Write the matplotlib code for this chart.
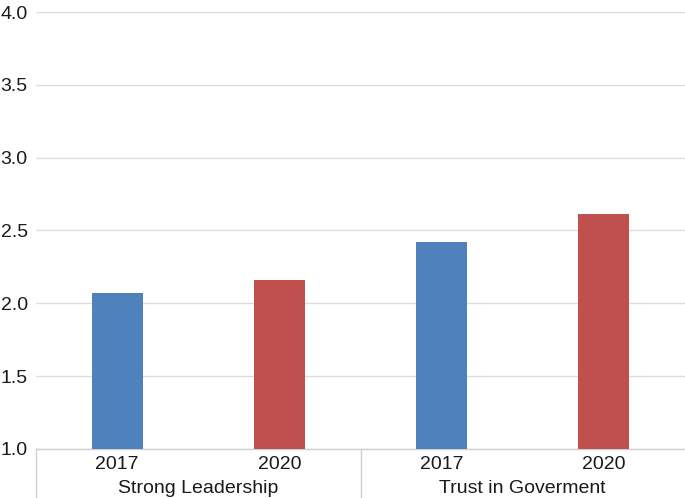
import matplotlib
matplotlib.use("Agg")
import matplotlib.pyplot as plt
from matplotlib.lines import Line2D

groups = ["Strong Leadership", "Trust in Goverment"]
years = ["2017", "2020"]
values = [2.07, 2.16, 2.42, 2.61]
colors = ["#4F81BD", "#C0504D", "#4F81BD", "#C0504D"]
yticks = [1.0, 1.5, 2.0, 2.5, 3.0, 3.5, 4.0]

plt.rcParams['font.family'] = ['Liberation Sans', 'DejaVu Sans']

fig = plt.figure(figsize=(6.85, 4.98), dpi=100)
ax = fig.add_axes([36/685, (498-448.8)/498, 1-36/685, (448.8-12)/498])

x = list(range(len(values)))
ax.bar(x, [v - 1.0 for v in values], bottom=1.0, width=0.315, color=colors,
       zorder=3)
ax.set_xlim(-0.5, len(values) - 0.5)
ax.set_ylim(1.0, 4.0)
ax.set_yticks(yticks)
ax.set_yticklabels([f"{t:.1f}" for t in yticks], fontsize=14, color="#1a1a1a")
ax.yaxis.grid(True, color="#dcdcdc", linewidth=1.0, zorder=0)
ax.tick_params(axis='y', length=0, pad=6)
for s in ["top", "right", "left"]:
    ax.spines[s].set_visible(False)
ax.spines["bottom"].set_color("#d0d0d0")
ax.spines["bottom"].set_linewidth(1.0)

ax.set_xticks(x)
ax.set_xticklabels(years * len(groups), fontsize=14, color="#1a1a1a")
ax.tick_params(axis='x', length=0, pad=5)

trans = ax.get_xaxis_transform()
n = len(years)
for i, g in enumerate(groups):
    cx = i * n + (n - 1) / 2
    ax.text(cx, -0.091, g, transform=trans, ha="center", va="center",
            fontsize=14, color="#1a1a1a")
for b in range(len(groups)):
    xb = b * n - 0.5
    ax.add_line(Line2D([xb, xb], [0, -0.2], transform=trans, color="#d0d0d0",
                       linewidth=1.0, clip_on=False))

fig.savefig("out.png", dpi=100)
